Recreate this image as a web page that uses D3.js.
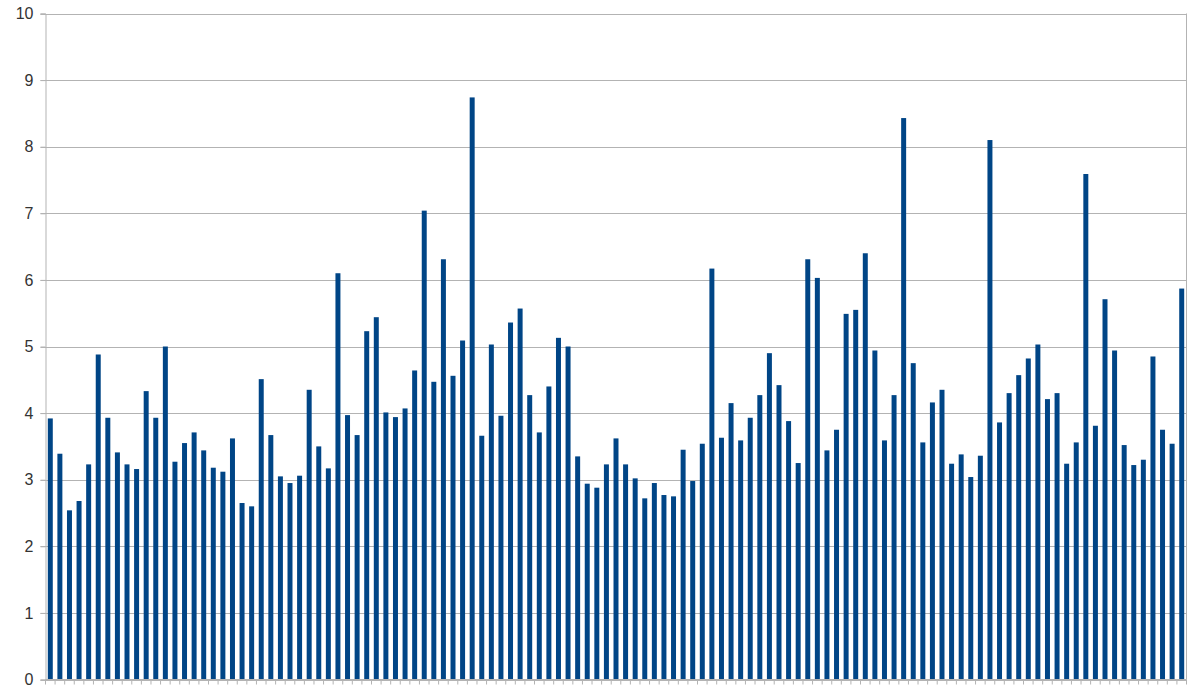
<!DOCTYPE html>
<html><head><meta charset="utf-8">
<script src="https://cdn.jsdelivr.net/npm/d3@7"></script>
<style>body{margin:0;background:#fff}svg{display:block}</style>
</head><body>
<svg id="c" width="1200" height="688"></svg>
<script>
const values = [3.92,3.39,2.54,2.68,3.23,4.88,3.93,3.41,3.23,3.16,4.33,3.93,5.00,3.27,3.55,3.71,3.44,3.18,3.12,3.62,2.65,2.60,4.51,3.67,3.05,2.95,3.06,4.35,3.50,3.17,6.10,3.97,3.67,5.23,5.44,4.01,3.94,4.07,4.64,7.04,4.47,6.31,4.56,5.09,8.74,3.66,5.03,3.96,5.36,5.57,4.27,3.71,4.40,5.13,5.00,3.35,2.94,2.88,3.23,3.62,3.23,3.02,2.72,2.95,2.77,2.75,3.45,2.98,3.54,6.17,3.63,4.15,3.59,3.93,4.27,4.90,4.42,3.88,3.25,6.31,6.03,3.44,3.75,5.49,5.55,6.40,4.94,3.59,4.27,8.43,4.75,3.56,4.16,4.35,3.24,3.38,3.04,3.36,8.10,3.86,4.30,4.57,4.82,5.03,4.21,4.30,3.24,3.56,7.59,3.81,5.71,4.94,3.52,3.22,3.30,4.85,3.75,3.54,5.87];
const categories = values.map((_, i) => String(i + 1));
const yTicks = [0,1,2,3,4,5,6,7,8,9,10];

const svg = d3.select("#c");
const m = {left: 45.5, right: 1186.5, top: 13.5, bottom: 679.5};
const x = d3.scaleBand().domain(categories).range([m.left, m.right]).paddingInner(0.48).paddingOuter(0.24);
const y = d3.scaleLinear().domain([0, 10]).range([m.bottom, m.top]);
const grid = "#b3b3b3";

// gridlines
svg.append("g").selectAll("line").data(yTicks).join("line")
  .attr("x1", m.left - 5).attr("x2", m.right)
  .attr("y1", d => Math.round(y(d)) + 0.5).attr("y2", d => Math.round(y(d)) + 0.5)
  .attr("stroke", grid).attr("stroke-width", 1);

// right border
svg.append("line").attr("x1", m.right).attr("x2", m.right).attr("y1", y(10)).attr("y2", y(0)).attr("stroke", grid);

// bars
svg.append("g").selectAll("rect").data(values).join("rect")
  .attr("x", (d, i) => x(categories[i]))
  .attr("width", x.bandwidth())
  .attr("y", d => y(d))
  .attr("height", d => y(0) - y(d))
  .attr("fill", "#004586");

// y axis
const yAxis = d3.axisLeft(y).tickValues(yTicks).tickSize(5).tickPadding(7).tickFormat(d3.format("d"));
const gy = svg.append("g").attr("transform", `translate(${m.left},0)`).call(yAxis);
gy.select(".domain").attr("stroke", grid);
gy.selectAll(".tick line").attr("stroke", grid);
gy.selectAll("text").attr("font-family", "Liberation Sans, Arial, sans-serif").attr("font-size", 16).attr("fill", "#333");

// x axis ticks at band boundaries
const step = x.step();
const bounds = d3.range(categories.length + 1).map(i => x(categories[0]) - x.paddingOuter() * step + 0 + i * step - (x.paddingInner()*step)/2 + (x.paddingInner()*step)/2);
const xs = d3.range(categories.length + 1).map(i => m.left + i * (m.right - m.left) / categories.length);
svg.append("line").attr("x1", m.left).attr("x2", m.right).attr("y1", m.bottom).attr("y2", m.bottom).attr("stroke", grid);
svg.append("g").selectAll("line").data(xs).join("line")
  .attr("x1", d => d).attr("x2", d => d)
  .attr("y1", m.bottom).attr("y2", m.bottom + 5)
  .attr("stroke", grid);
</script>
</body></html>
